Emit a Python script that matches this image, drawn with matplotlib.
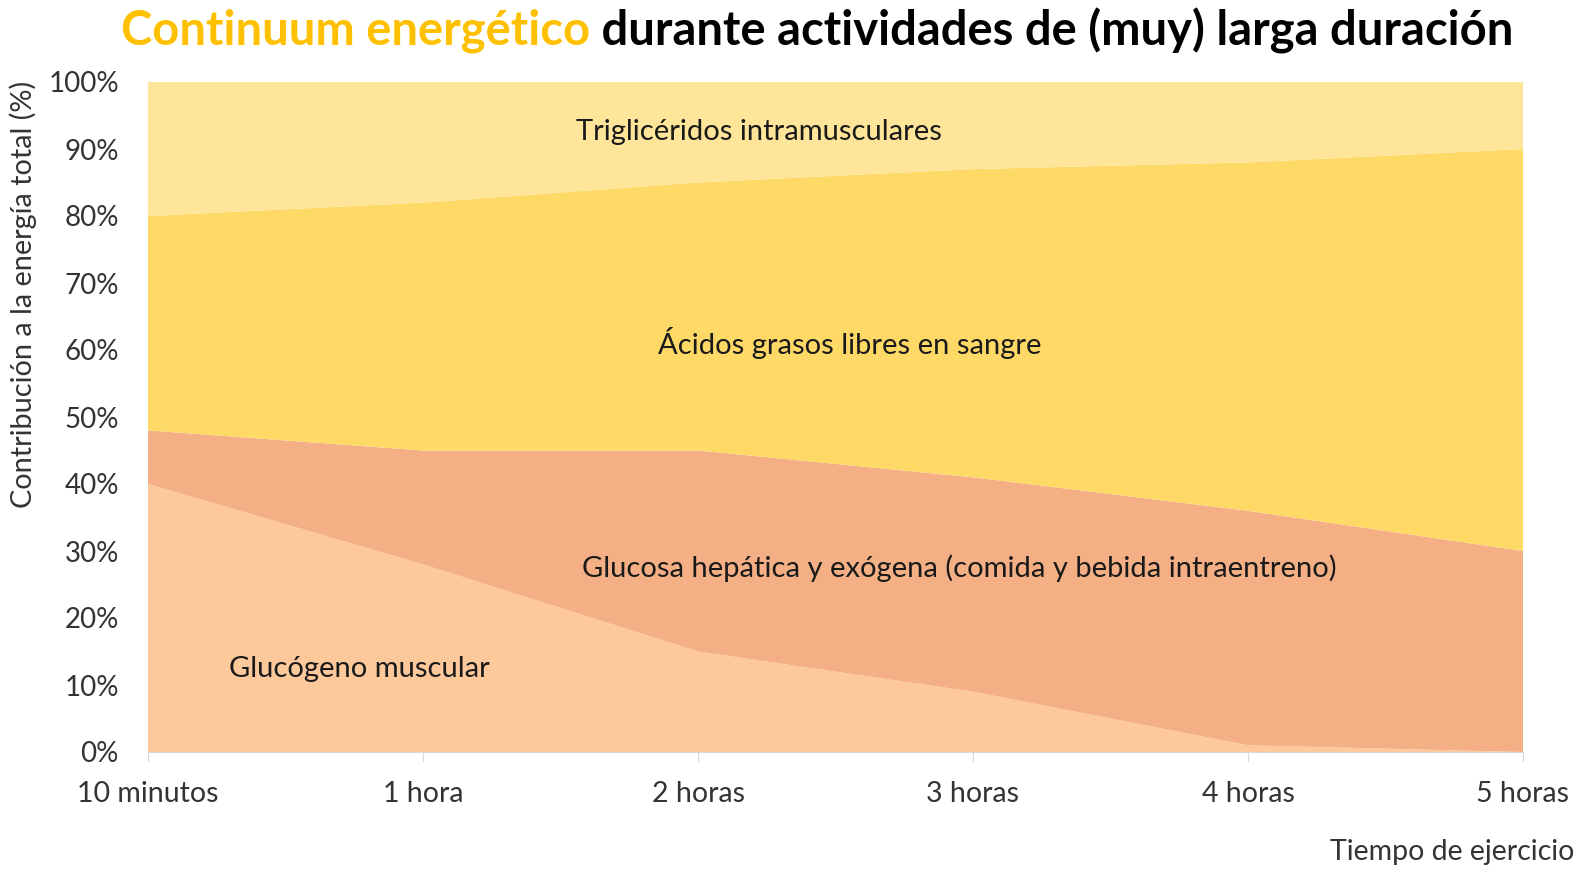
import numpy as np
import matplotlib
matplotlib.use("Agg")
import matplotlib.pyplot as plt

plt.rcParams['font.family'] = ['Lato', 'DejaVu Sans']

tiempos = ["10 minutos", "1 hora", "2 horas", "3 horas", "4 horas", "5 horas"]
glucogeno = [40, 28, 15, 9, 1, 0]
glucosa = [8, 17, 30, 32, 35, 30]
acidos = [32, 37, 40, 46, 52, 60]
trigliceridos = [20, 18, 15, 13, 12, 10]

nombres = ["Glucógeno muscular",
           "Glucosa hepática y exógena (comida y bebida intraentreno)",
           "Ácidos grasos libres en sangre",
           "Triglicéridos intramusculares"]
colores = ["#FDC99B", "#F4B084", "#FFD966", "#FFE599"]
# posiciones de las etiquetas dentro de cada area
pos_etiquetas = [(0.77, 12.4), (2.95, 27.5), (2.55, 61.1), (2.22, 92.5)]

x = np.arange(len(tiempos))

fig = plt.figure(figsize=(15.8, 8.74), dpi=100)
ax = fig.add_axes([148 / 1580, 1 - 752 / 874, 1375 / 1580, 670 / 874])

ax.stackplot(x, glucogeno, glucosa, acidos, trigliceridos, colors=colores, linewidth=0)

for nombre, (px, py) in zip(nombres, pos_etiquetas):
    ax.text(px, py, nombre, ha="center", va="center", fontsize=21, color="#1a1a1a")

ax.set_xlim(0, 5)
ax.set_ylim(0, 100)
ax.set_xticks(x)
ax.set_xticklabels(tiempos, fontsize=20.5, color="#333333")
ax.set_yticks(np.arange(0, 101, 10))
ax.set_yticklabels([f"{v}%" for v in range(0, 101, 10)], fontsize=20, color="#333333")
ax.tick_params(axis="y", length=0, pad=21)
ax.tick_params(axis="x", length=7, color="#d9d9d9", pad=14)
for s in ["top", "right", "left"]:
    ax.spines[s].set_visible(False)
ax.spines["bottom"].set_color("#d9d9d9")

fig.text(23 / 1580, 1 - 294 / 874, "Contribución a la energía total (%)",
         rotation=90, ha="center", va="center", fontsize=20.8, color="#333333")
fig.text(1574 / 1580, 1 - 852 / 874, "Tiempo de ejercicio",
         ha="right", va="center", fontsize=20.5, color="#333333")

t1 = fig.text(121 / 1580, 1 - 31 / 874, "Continuum energético",
              ha="left", va="center", fontsize=33.9, fontweight="bold", color="#FFC000")
ax.annotate(" durante actividades de (muy) larga duración", xy=(1, 0.5), xycoords=t1,
            ha="left", va="center", fontsize=33.9, fontweight="bold", color="black",
            annotation_clip=False)

fig.savefig("out.png", dpi=100)
